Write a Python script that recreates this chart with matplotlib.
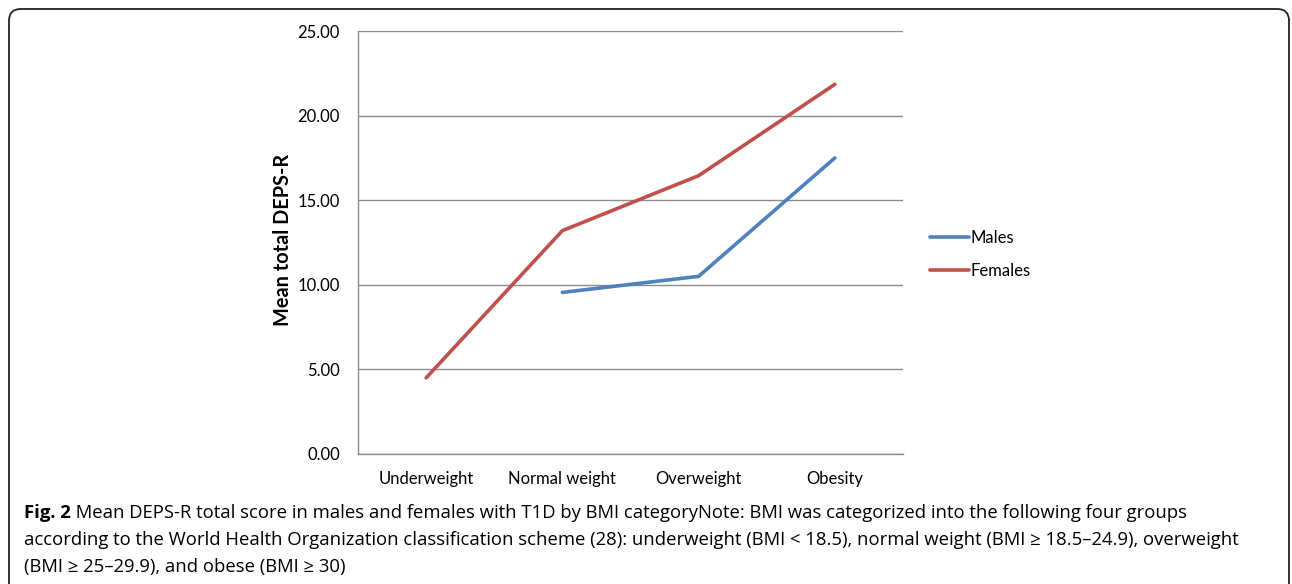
import matplotlib.pyplot as plt
from matplotlib.patches import FancyBboxPatch

categories = ['Underweight', 'Normal weight', 'Overweight', 'Obesity']
males = [None, 9.55, 10.5, 17.5]
females = [4.5, 13.2, 16.45, 21.85]
yticks = [0, 5, 10, 15, 20, 25]

plt.rcParams['font.family'] = ['Open Sans', 'DejaVu Sans']
lato = ['Lato', 'DejaVu Sans']

fig = plt.figure(figsize=(12.92, 5.84), dpi=100)

# rounded frame around the figure panel
frame = FancyBboxPatch((9 / 1292, -0.05), 1280 / 1292, (584 - 9) / 584 + 0.05,
                       boxstyle='round,pad=0,rounding_size=0.009',
                       transform=fig.transFigure, fill=False,
                       edgecolor='#222222', linewidth=1.3, mutation_aspect=1292 / 584)
fig.patches.append(frame)

ax = fig.add_axes([358 / 1292, 1 - 454 / 584, 545 / 1292, 423 / 584])

x = list(range(len(categories)))
mx = [i for i, v in zip(x, males) if v is not None]
my = [v for v in males if v is not None]
ax.plot(mx, my, color='#4F81BD', linewidth=2.6, solid_capstyle='round', label='Males')
ax.plot(x, females, color='#C0504D', linewidth=2.6, solid_capstyle='round', label='Females')

ax.set_xlim(-0.5, 3.5)
ax.set_ylim(0, 25)
ax.set_yticks(yticks)
ax.set_yticklabels([f'{v:.2f}' for v in yticks], fontsize=12, family=lato)
ax.set_xticks(x)
ax.set_xticklabels(categories, fontsize=12, family=lato)
ax.tick_params(axis='x', length=0, pad=12)
ax.tick_params(axis='y', length=0, pad=13)
ax.grid(axis='y', color='#8c8c8c', linewidth=1)
ax.set_axisbelow(True)
for s in ['top', 'right']:
    ax.spines[s].set_visible(False)
for s in ['left', 'bottom']:
    ax.spines[s].set_color('#8c8c8c')
    ax.spines[s].set_linewidth(1)

fig.text(283 / 1292, 1 - 240 / 584, 'Mean total DEPS-R', rotation=90, fontsize=14.3,
         fontweight='bold', ha='center', va='center', family=lato)

ax.legend(loc='center left', bbox_to_anchor=(1.05, 0.472), frameon=False,
          borderpad=0, borderaxespad=0,
          handlelength=2.3, handletextpad=0.1, labelspacing=1.05,
          prop={'family': lato, 'size': 12})

# caption: bold "Fig. 2" followed by regular text on the same line
fs = 13.3
t = fig.text(24 / 1292, 1 - 518 / 584, 'Fig. 2', fontsize=fs, fontweight='bold',
             ha='left', va='baseline')
ax.annotate(' Mean DEPS-R total score in males and females with T1D by BMI categoryNote: '
            'BMI was categorized into the following four groups',
            xy=(1, 0), xycoords=t, fontsize=fs, ha='left', va='bottom',
            annotation_clip=False)
fig.text(24 / 1292, 1 - 545 / 584,
         'according to the World Health Organization classification scheme (28): underweight '
         '(BMI < 18.5), normal weight (BMI \u2265 18.5\u201324.9), overweight',
         fontsize=fs, ha='left', va='baseline')
fig.text(24 / 1292, 1 - 572 / 584, '(BMI \u2265 25\u201329.9), and obese (BMI \u2265 30)',
         fontsize=fs, ha='left', va='baseline')

fig.savefig('out.png', dpi=100)
